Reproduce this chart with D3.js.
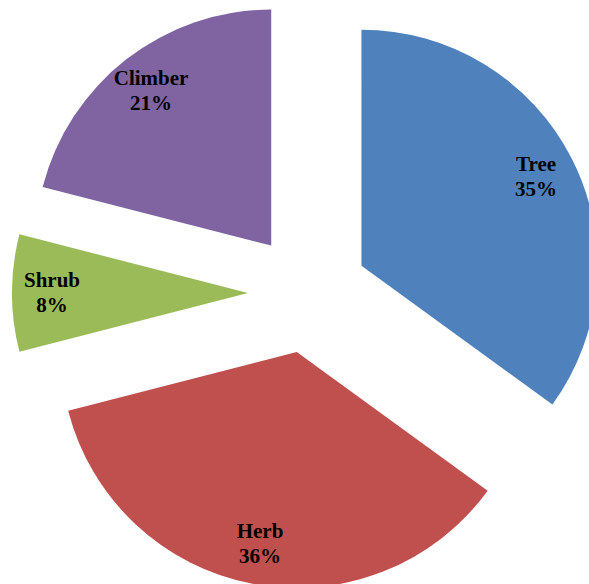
<!DOCTYPE html>
<html>
<head>
<meta charset="utf-8">
<script src="https://cdn.jsdelivr.net/npm/d3@7"></script>
<style>
html,body{margin:0;padding:0;background:#fff;}
svg{display:block;}
</style>
</head>
<body>
<svg id="chart" width="589" height="584"></svg>
<script>
const categories = ["Tree", "Herb", "Shrub", "Climber"];
const values = [35, 36, 8, 21];
const colors = ["#4F81BD", "#C0504D", "#9BBB59", "#8064A2"];

const W = 589, H = 584;
const cx = 308, cy = 293, R = 236, explode = 60, labelR = 196;

const svg = d3.select("#chart");
const g = svg.append("g").attr("transform", `translate(${cx},${cy})`);

const data = categories.map((c, i) => ({ name: c, value: values[i], color: colors[i] }));
const pie = d3.pie().value(d => d.value).sort(null).startAngle(0).endAngle(2 * Math.PI);
const arcs = pie(data);
const arc = d3.arc().innerRadius(0).outerRadius(R);

const slices = g.selectAll("g.slice").data(arcs).enter().append("g")
  .attr("class", "slice")
  .attr("transform", d => {
    const m = (d.startAngle + d.endAngle) / 2;
    return `translate(${Math.sin(m) * explode},${-Math.cos(m) * explode})`;
  });

slices.append("path")
  .attr("d", arc)
  .attr("fill", d => d.data.color);

const total = d3.sum(values);
const txt = slices.append("text")
  .attr("text-anchor", "middle")
  .attr("font-family", "'Liberation Serif', 'Times New Roman', serif")
  .attr("font-weight", "bold")
  .attr("font-size", 21)
  .attr("fill", "#000")
  .attr("transform", d => {
    const m = (d.startAngle + d.endAngle) / 2;
    return `translate(${Math.sin(m) * labelR},${-Math.cos(m) * labelR})`;
  });
txt.append("tspan").attr("x", 0).attr("y", -6).text(d => d.data.name);
txt.append("tspan").attr("x", 0).attr("y", 19).text(d => Math.round(d.data.value / total * 100) + "%");
</script>
</body>
</html>
